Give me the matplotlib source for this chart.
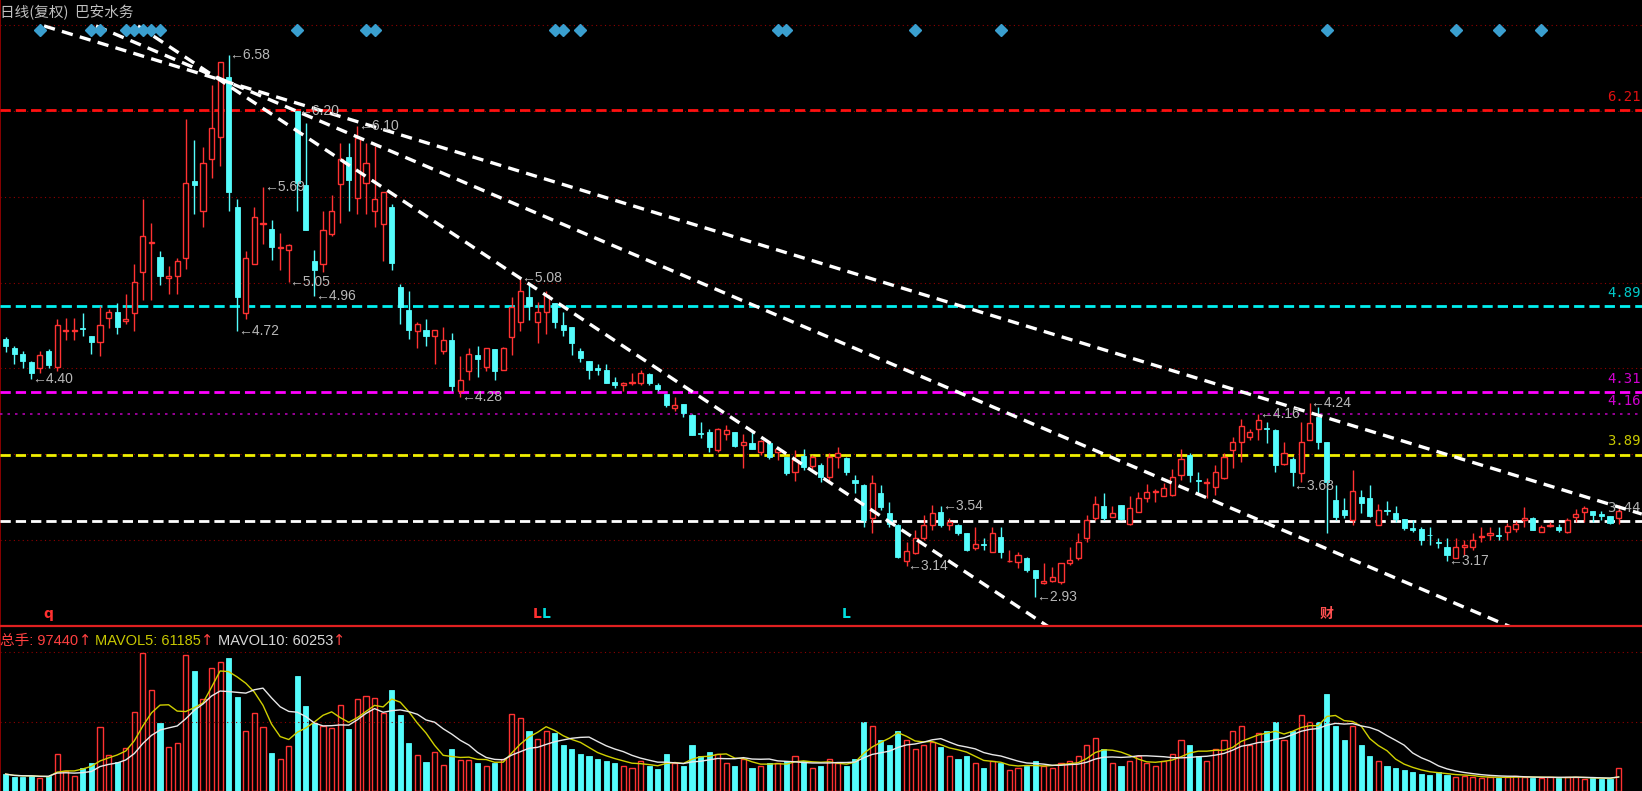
import matplotlib
matplotlib.use("Agg")
import matplotlib.pyplot as plt
import pandas as pd

# ---------------- data ----------------
opens = [4.67, 4.61, 4.57, 4.51, 4.47, 4.59, 4.48, 4.72, 4.72, 4.745,
         4.69, 4.65, 4.81, 4.85, 4.79, 4.84, 5.12, 5.315, 5.22, 5.08,
         5.09, 5.21, 5.73, 5.53, 5.88, 6.03, 6.43, 5.56, 4.84, 5.17,
         5.44, 5.41, 5.28, 5.27, 6.20, 5.705, 5.19, 5.17, 5.375, 5.71,
         5.89, 5.615, 5.72, 5.53, 5.44, 5.56, 5.02, 4.86, 4.72, 4.73,
         4.69, 4.59, 4.66, 4.32, 4.45, 4.56, 4.48, 4.60, 4.46, 4.68,
         4.78, 4.95, 4.78, 4.85, 4.91, 4.76, 4.75, 4.59, 4.52, 4.47,
         4.46, 4.375, 4.36, 4.37, 4.37, 4.43, 4.36, 4.30, 4.205, 4.23,
         4.155, 4.035, 4.04, 3.92, 4.025, 4.04, 3.955, 3.965, 3.91, 3.97,
         3.91, 3.87, 3.775, 3.88, 3.81, 3.82, 3.74, 3.87, 3.865, 3.72,
         3.685, 3.46, 3.63, 3.495, 3.415, 3.17, 3.23, 3.325, 3.415, 3.50,
         3.415, 3.415, 3.36, 3.258, 3.29, 3.236, 3.337, 3.17, 3.168, 3.19,
         3.112, 3.027, 3.04, 3.033, 3.16, 3.19, 3.325, 3.46, 3.543, 3.47,
         3.55, 3.422, 3.505, 3.595, 3.635, 3.61, 3.617, 3.752, 3.887, 3.72,
         3.696, 3.673, 3.73, 3.92, 3.976, 4.01, 4.06, 4.07, 4.055, 3.826,
         3.857, 3.763, 3.988, 4.145, 3.976, 3.584, 3.516, 3.449, 3.606, 3.595,
         3.415, 3.516, 3.494, 3.453, 3.393, 3.386, 3.35, 3.303, 3.269, 3.19,
         3.27, 3.265, 3.332, 3.348, 3.345, 3.37, 3.386, 3.45, 3.46, 3.37,
         3.41, 3.404, 3.37, 3.467, 3.505, 3.512, 3.49, 3.476, 3.46]
highs = [4.68, 4.62, 4.59, 4.52, 4.59, 4.60, 4.80, 4.81, 4.81, 4.84,
         4.69, 4.89, 4.87, 4.91, 4.97, 5.17, 5.61, 5.45, 5.26, 5.16,
         5.21, 6.15, 6.01, 5.96, 6.38, 6.53, 6.58, 5.61, 5.26, 5.56,
         5.69, 5.47, 5.38, 5.31, 6.20, 6.12, 5.27, 5.53, 5.64, 5.99,
         5.99, 6.10, 5.99, 5.97, 5.66, 5.58, 5.04, 4.99, 4.78, 4.80,
         4.73, 4.75, 4.71, 4.55, 4.605, 4.62, 4.61, 4.60, 4.615, 4.95,
         5.08, 5.03, 4.92, 4.99, 4.91, 4.85, 4.75, 4.61, 4.52, 4.50,
         4.50, 4.41, 4.38, 4.44, 4.46, 4.44, 4.37, 4.30, 4.28, 4.23,
         4.16, 4.11, 4.06, 4.07, 4.09, 4.04, 4.03, 4.05, 3.99, 3.98,
         3.94, 3.875, 3.92, 3.93, 3.89, 3.83, 3.90, 3.94, 3.875, 3.75,
         3.69, 3.75, 3.685, 3.57, 3.42, 3.30, 3.38, 3.48, 3.55, 3.54,
         3.46, 3.42, 3.36, 3.40, 3.325, 3.40, 3.40, 3.25, 3.235, 3.20,
         3.112, 3.157, 3.135, 3.16, 3.27, 3.36, 3.48, 3.61, 3.628, 3.54,
         3.55, 3.61, 3.64, 3.69, 3.66, 3.695, 3.79, 3.93, 3.898, 3.77,
         3.73, 3.82, 3.902, 4.01, 4.127, 4.06, 4.16, 4.11, 4.06, 3.976,
         3.87, 4.11, 4.24, 4.21, 3.976, 3.684, 3.595, 3.786, 3.65, 3.684,
         3.556, 3.58, 3.54, 3.455, 3.449, 3.40, 3.40, 3.325, 3.325, 3.325,
         3.314, 3.359, 3.404, 3.404, 3.404, 3.426, 3.44, 3.534, 3.467, 3.415,
         3.437, 3.42, 3.46, 3.52, 3.54, 3.512, 3.512, 3.476, 3.55]
lows = [4.58, 4.50, 4.47, 4.40, 4.44, 4.47, 4.45, 4.66, 4.66, 4.69,
        4.57, 4.55, 4.74, 4.70, 4.77, 4.72, 4.93, 4.93, 5.03, 4.97,
        4.97, 5.14, 5.51, 5.42, 5.75, 5.83, 5.53, 4.72, 4.80, 5.17,
        5.31, 5.20, 5.13, 5.05, 5.53, 5.40, 4.96, 5.12, 5.36, 5.45,
        5.53, 5.51, 5.51, 5.42, 5.19, 5.13, 4.77, 4.67, 4.605, 4.62,
        4.50, 4.57, 4.32, 4.28, 4.39, 4.41, 4.45, 4.39, 4.46, 4.56,
        4.72, 4.795, 4.64, 4.70, 4.74, 4.69, 4.56, 4.51, 4.40, 4.425,
        4.37, 4.335, 4.32, 4.36, 4.36, 4.36, 4.32, 4.21, 4.18, 4.145,
        4.02, 4.00, 3.91, 3.91, 3.99, 3.94, 3.80, 3.925, 3.89, 3.86,
        3.85, 3.755, 3.71, 3.785, 3.79, 3.705, 3.705, 3.80, 3.75, 3.63,
        3.40, 3.36, 3.515, 3.40, 3.19, 3.14, 3.22, 3.315, 3.38, 3.40,
        3.38, 3.35, 3.24, 3.25, 3.247, 3.236, 3.19, 3.166, 3.124, 3.10,
        2.93, 3.02, 3.033, 3.02, 3.146, 3.18, 3.30, 3.449, 3.449, 3.467,
        3.449, 3.415, 3.505, 3.572, 3.572, 3.61, 3.61, 3.718, 3.707, 3.633,
        3.595, 3.617, 3.723, 3.797, 3.842, 3.988, 3.988, 3.965, 3.775, 3.82,
        3.68, 3.707, 3.988, 3.93, 3.359, 3.449, 3.46, 3.415, 3.494, 3.467,
        3.415, 3.48, 3.437, 3.382, 3.37, 3.28, 3.28, 3.258, 3.17, 3.19,
        3.213, 3.25, 3.303, 3.314, 3.314, 3.314, 3.37, 3.404, 3.382, 3.37,
        3.404, 3.37, 3.364, 3.437, 3.437, 3.437, 3.449, 3.42, 3.42]
closes = [4.62, 4.57, 4.52, 4.44, 4.56, 4.49, 4.76, 4.73, 4.73, 4.735,
          4.65, 4.76, 4.85, 4.75, 4.80, 5.05, 5.36, 5.32, 5.09, 5.09,
          5.19, 5.72, 5.705, 5.85, 6.09, 6.53, 5.66, 4.95, 5.21, 5.49,
          5.45, 5.29, 5.29, 5.30, 5.72, 5.40, 5.13, 5.40, 5.53, 5.88,
          5.74, 6.02, 5.85, 5.61, 5.655, 5.18, 4.885, 4.73, 4.77, 4.69,
          4.73, 4.66, 4.35, 4.39, 4.57, 4.53, 4.605, 4.45, 4.61, 4.885,
          4.99, 4.89, 4.85, 4.965, 4.785, 4.73, 4.64, 4.54, 4.46, 4.46,
          4.37, 4.36, 4.37, 4.38, 4.44, 4.37, 4.33, 4.22, 4.22, 4.17,
          4.02, 4.03, 3.94, 4.065, 4.055, 3.95, 3.975, 3.93, 3.98, 3.875,
          3.93, 3.765, 3.85, 3.805, 3.875, 3.74, 3.875, 3.90, 3.775, 3.70,
          3.45, 3.695, 3.535, 3.425, 3.20, 3.24, 3.325, 3.415, 3.495, 3.415,
          3.437, 3.36, 3.247, 3.29, 3.28, 3.36, 3.236, 3.175, 3.213, 3.112,
          3.056, 3.04, 3.063, 3.16, 3.18, 3.30, 3.449, 3.56, 3.46, 3.498,
          3.453, 3.527, 3.60, 3.64, 3.645, 3.662, 3.736, 3.857, 3.752, 3.71,
          3.707, 3.774, 3.875, 3.976, 4.082, 4.044, 4.122, 4.065, 3.82, 3.898,
          3.774, 3.976, 4.104, 3.976, 3.707, 3.47, 3.48, 3.646, 3.561, 3.476,
          3.516, 3.51, 3.453, 3.393, 3.382, 3.314, 3.345, 3.292, 3.213, 3.269,
          3.28, 3.314, 3.341, 3.359, 3.34, 3.408, 3.422, 3.46, 3.382, 3.40,
          3.415, 3.382, 3.449, 3.49, 3.527, 3.483, 3.476, 3.426, 3.512]
volumes = [73000, 62000, 62000, 65000, 55000, 65000, 160000, 88000, 65000, 98000,
           122000, 275000, 155000, 127000, 184000, 342000, 597000, 436000, 295000, 191000,
           206000, 587000, 520000, 396000, 530000, 558000, 573000, 404000, 260000, 338000,
           275000, 165000, 137000, 196000, 496000, 367000, 295000, 281000, 270000, 371000,
           266000, 396000, 412000, 403000, 338000, 436000, 328000, 206000, 155000, 127000,
           170000, 112000, 181000, 134000, 134000, 122000, 108000, 122000, 137000, 332000,
           314000, 260000, 223000, 259000, 250000, 200000, 180000, 160000, 150000, 140000,
           130000, 120000, 110000, 100000, 130000, 110000, 95000, 160000, 120000, 110000,
           200000, 150000, 170000, 160000, 120000, 110000, 140000, 100000, 110000, 120000,
           120000, 130000, 150000, 130000, 100000, 110000, 140000, 120000, 110000, 140000,
           300000, 280000, 220000, 200000, 260000, 220000, 180000, 200000, 210000, 190000,
           150000, 140000, 150000, 120000, 100000, 130000, 120000, 90000, 100000, 110000,
           130000, 110000, 100000, 120000, 130000, 150000, 200000, 230000, 180000, 120000,
           110000, 130000, 150000, 120000, 110000, 130000, 160000, 220000, 200000, 150000,
           130000, 180000, 220000, 260000, 280000, 200000, 250000, 260000, 300000, 220000,
           260000, 330000, 300000, 300000, 420000, 280000, 220000, 280000, 200000, 150000,
           130000, 110000, 100000, 90000, 80000, 75000, 70000, 80000, 70000, 60000,
           65000, 60000, 55000, 60000, 58000, 62000, 65000, 60000, 55000, 55000,
           62000, 58000, 60000, 61605, 50000, 54000, 52000, 52485, 97440]

# horizontal price levels on the right
level_prices = [6.21, 4.89, 4.31, 4.16, 3.89, 3.44]
level_colors = ['#ff1010', '#00f0f0', '#ff00ff', '#b000b0', '#f0f000', '#ffffff']
level_text_colors = ['#e01010', '#00c8c8', '#d000d0', '#d000d0', '#c8c800', '#b0b0b0']
level_dotted = [False, False, False, True, False, False]

# background grid (dark red dotted)
grid_prices = [6.782, 6.204, 5.626, 5.048, 4.470, 3.892, 3.314]
vol_grid = [300000, 600000]

# high / low marks
mark_idx = [26, 34, 41, 30, 60, 109, 146, 152, 3, 27, 33, 36, 53, 105, 120, 150, 168]
mark_high = [True] * 8 + [False] * 9

# signal diamonds at the top
diamond_idx = [4, 10, 11, 14, 15, 16, 17, 18, 34, 42, 43, 64, 65, 67, 90, 91, 106, 116, 154, 169, 174, 179]

# letters at bottom of price panel
letter_idx = [5, 62, 63, 98, 154]
letter_txt = ['q', 'L', 'L', 'L', '财']
letter_col = ['#ff3030', '#ff3030', '#00e0e0', '#00e0e0', '#ff5050']

# hand drawn trend lines (candle index, price)
trend_x0 = [4.48, 10.54, 15.43]
trend_p0 = [6.776, 6.776, 6.776]
trend_x1 = [190.7, 181.2, 127.55]
trend_p1 = [3.489, 2.587, 2.501]

RED = '#ff3232'
CYAN = '#54fcfc'
W, H = 1642, 791
LAT = ['Liberation Sans', 'Noto Sans CJK SC']
cjk = ['Noto Sans CJK SC', 'DejaVu Sans']

fig = plt.figure(figsize=(W / 100, H / 100), dpi=100, facecolor='black')

# main panel: pixel rows 0..625
ax = fig.add_axes([0, 1 - 625 / H, 1, 625 / H], facecolor='black')
# volume panel: pixel rows 627..791
axv = fig.add_axes([0, 0, 1, 164 / H], facecolor='black')

x_lo = (0 - 5.6) / 8.58
x_hi = (W - 5.6) / 8.58
ax.set_xlim(x_lo, x_hi)
ax.set_ylim(4.89 - (625 - 306) / 148.5, 4.89 + 306 / 148.5)
axv.set_xlim(x_lo, x_hi)
axv.set_ylim(0, 164 * 4317)

for a in (ax, axv):
    a.set_xticks([])
    a.set_yticks([])
    for s in a.spines.values():
        s.set_visible(False)
    a.axvline(x_lo + 0.05, color='#a00000', lw=1.2)

for g in grid_prices:
    ax.axhline(g, color='#900000', lw=0.8, ls=(0, (1, 3)))
for g in vol_grid:
    axv.axhline(g, color='#900000', lw=0.8, ls=(0, (1, 3)))

# level lines
for p, c, dotted in zip(level_prices, level_colors, level_dotted):
    if dotted:
        ax.axhline(p, color=c, lw=1.2, ls=(0, (1.5, 3)))
    else:
        ax.axhline(p, color=c, lw=2.0, ls=(0, (3.7, 1.8)))
for p, c in zip(level_prices, level_text_colors):
    ax.text(x_hi - 0.12, p + 13 / 148.5, '%.2f' % p, color=c, fontsize=10,
            family='DejaVu Sans Mono', va='center', ha='right')

# candles
n = len(closes)
for i in range(n):
    o, h, l, c = opens[i], highs[i], lows[i], closes[i]
    if c >= o:
        body = max(c - o, 0.004)
        ax.vlines(i, l, o, color=RED, lw=1)
        ax.vlines(i, o + body, h, color=RED, lw=1)
        ax.bar(i, body, bottom=o, width=0.6, facecolor='black', edgecolor=RED, linewidth=1.0, zorder=3)
    else:
        ax.vlines(i, l, h, color=CYAN, lw=1)
        ax.bar(i, o - c, bottom=c, width=0.6, color=CYAN, edgecolor=CYAN, linewidth=0.6, zorder=3)

# volume bars
for i in range(n):
    if closes[i] >= opens[i]:
        axv.bar(i, volumes[i], width=0.6, facecolor='black', edgecolor=RED, linewidth=1.0)
    else:
        axv.bar(i, volumes[i], width=0.6, color=CYAN, edgecolor=CYAN, linewidth=0.6)

vol = pd.Series(volumes)
ma5 = vol.rolling(5, min_periods=1).mean()
ma10 = vol.rolling(10, min_periods=1).mean()
axv.plot(range(n), ma5, color='#d0d000', lw=1.0)
axv.plot(range(n), ma10, color='#e8e8e8', lw=1.0)

# trend lines
for x0, p0, x1, p1 in zip(trend_x0, trend_p0, trend_x1, trend_p1):
    ax.plot([x0, x1], [p0, p1], color='white', lw=2.4, ls=(0, (3.4, 2.2)), zorder=5)

# high / low labels
for i, is_high in zip(mark_idx, mark_high):
    p = highs[i] if is_high else lows[i]
    ax.text(i + 0.1, p, '\u2190' + '%.2f' % p, color='#b8b8b8', fontsize=10,
            va='center', ha='left', zorder=6, family=['Liberation Sans', 'DejaVu Sans'])

# diamonds
ax.plot(diamond_idx, [6.749] * len(diamond_idx), ls='none', marker='D', ms=6,
        color='#3a9fcf', zorder=6)

# letters
for i, t, c in zip(letter_idx, letter_txt, letter_col):
    ax.text(i, 2.815, t, color=c, fontsize=10, fontweight='bold', ha='center', va='center',
            family=['DejaVu Sans', 'Noto Sans CJK SC'])

# separator between panels
fig.add_artist(plt.Line2D([0, 1], [1 - 626 / H, 1 - 626 / H], color='#e02020', lw=1.6))

# headers
fig.text(0, 1 - 12 / H, '日线(复权)  巴安水务', color='#c0c0c0', fontsize=10.5, va='center',
         ha='left', family=cjk)

# volume header, each piece placed right after the previous one
hy = 1 - 645 / H
pieces = [('MAVOL5: %d' % round(ma5.iloc[-1]), '#c8c800'),
          ('MAVOL10: %d' % round(ma10.iloc[-1]), '#d8d8d8')]


def add_arrow(after):
    # red up arrow right after a text piece, same baseline
    return axv.annotate('\u2191', xy=(1, hy), xycoords=(after, 'figure fraction'),
                        xytext=(0.3, 0), textcoords='offset points', va='baseline',
                        color='#ff4040', fontsize=10.5, annotation_clip=False,
                        family='DejaVu Sans')


prev = fig.text(0, hy, '总手: %d' % volumes[-1], color='#ff4040',
                fontsize=10.5, va='baseline', family=LAT)
prev = add_arrow(prev)
for txt, col in pieces:
    prev = axv.annotate(txt, xy=(1, hy), xycoords=(prev, 'figure fraction'), xytext=(3, 0),
                        textcoords='offset points', va='baseline', color=col,
                        fontsize=10.5, annotation_clip=False, family=LAT)
    prev = add_arrow(prev)

fig.savefig('out.png', dpi=100, facecolor='black')
